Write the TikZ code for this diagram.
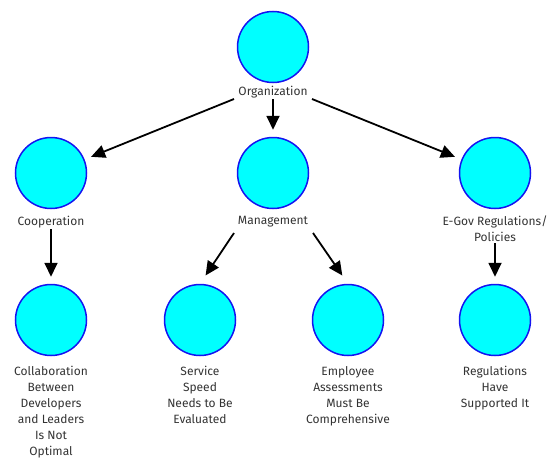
\documentclass[tikz,border=0pt]{standalone}
\usepackage{fontspec}
\setmainfont{Fira Sans}
\usetikzlibrary{arrows.meta}
\definecolor{ballfill}{RGB}{0,255,255}
\definecolor{ballline}{RGB}{20,20,240}
\begin{document}
\begin{tikzpicture}[x=1pt,y=-1pt,
  ball/.style={circle,draw=ballline,fill=ballfill,line width=1.5pt,minimum size=71pt,inner sep=0pt},
  lbl/.style={align=center,font=\fontsize{12}{16}\selectfont,text=black!80,inner sep=1pt,anchor=north},
  arr/.style={-{Triangle[length=14pt,width=13pt]},line width=1.8pt,black,shorten >=7pt}]
\useasboundingbox (0,0) rectangle (553,460);
\node[ball] (c0) at (273,47) {};
\node[lbl] (t0) at (273,85) {Organization};
\node[ball] (c1) at (51,173) {};
\node[ball] (c2) at (273,173) {};
\node[ball] (c3) at (495,173) {};
\node[lbl] (t1) at (51,215) {Cooperation};
\node[lbl] (t2) at (273,215) {Management};
\node[lbl] (t3) at (495,215) {E-Gov Regulations/\\Policies};
\node[ball] (c4) at (51,320) {};
\node[ball] (c5) at (200,320) {};
\node[ball] (c6) at (348,320) {};
\node[ball] (c7) at (495,320) {};
\node[lbl] (t4) at (51,365) {Collaboration\\Between\\Developers\\and Leaders\\Is Not\\Optimal};
\node[lbl] (t5) at (200,365) {Service\\Speed\\Needs to Be\\Evaluated};
\node[lbl] (t6) at (348,365) {Employee\\Assessments\\Must Be\\Comprehensive};
\node[lbl] (t7) at (495,365) {Regulations\\Have\\Supported It};
\coordinate (s01) at (234,99);
\coordinate (s03) at (312,99);
\draw[arr] (s01) -- (c1);
\draw[arr] (t0) -- (c2);
\draw[arr] (s03) -- (c3);
\coordinate (s25) at (234,233);
\coordinate (s26) at (313,233);
\draw[arr,shorten >=10pt] (s25) -- (c5.north);
\draw[arr,shorten >=10pt] (s26) -- (c6.north);
\draw[arr] (t1) -- (c4);
\draw[arr] (t3) -- (c7);
\end{tikzpicture}
\end{document}
